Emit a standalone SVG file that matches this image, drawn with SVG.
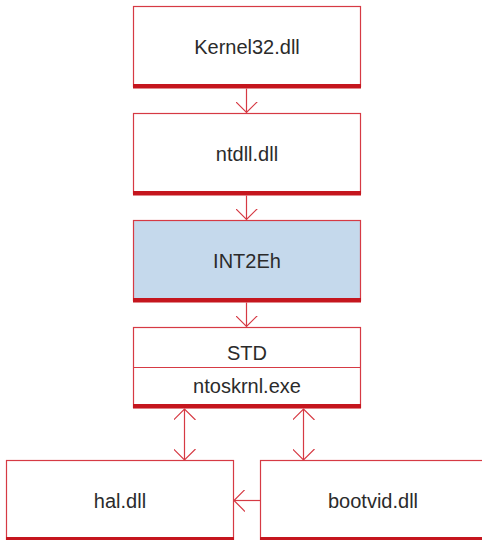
<svg xmlns="http://www.w3.org/2000/svg" width="482" height="540" viewBox="0 0 482 540">
<style>
.box{fill:#fff;stroke:#d63a44;stroke-width:1.2}
.band{fill:#c5161e}
.lbl{font-family:"Liberation Sans",Arial,sans-serif;font-size:20px;fill:#2b2b2b;text-anchor:middle}
.ln{stroke:#d63a44;stroke-width:1.2;fill:none}
</style>
<defs>
<marker id="ah" viewBox="0 0 12 22" refX="11" refY="11" markerWidth="12" markerHeight="22" markerUnits="userSpaceOnUse" orient="auto-start-reverse">
<path d="M0,0 L11,11 L0,22" fill="none" stroke="#d63a44" stroke-width="1.2"/>
</marker>
</defs>
<g id="kernel32">
<rect class="box" x="133.5" y="6.5" width="227" height="80"/>
<rect class="band" x="133" y="84" width="228" height="4.5"/>
<text class="lbl" x="247" y="54">Kernel32.dll</text>
</g>
<g id="ntdll">
<rect class="box" x="133.5" y="113.5" width="227" height="80"/>
<rect class="band" x="133" y="191" width="228" height="4.5"/>
<text class="lbl" x="247" y="161">ntdll.dll</text>
</g>
<g id="int2eh">
<rect class="box" x="133.5" y="220.5" width="227" height="80" style="fill:#c5d9ec"/>
<rect class="band" x="133" y="298" width="228" height="4.5"/>
<text class="lbl" x="247" y="268">INT2Eh</text>
</g>
<g id="ntoskrnl">
<rect class="box" x="133.5" y="327.5" width="227" height="80"/>
<line class="ln" x1="133.5" y1="367.5" x2="360.5" y2="367.5"/>
<rect class="band" x="133" y="404" width="228" height="4.5"/>
<text class="lbl" x="247" y="360">STD</text>
<text class="lbl" x="247" y="393">ntoskrnl.exe</text>
</g>
<g id="hal">
<rect class="box" x="6.5" y="460.5" width="227" height="82"/>
<rect class="band" x="6" y="537" width="228" height="4"/>
<text class="lbl" x="120" y="508">hal.dll</text>
</g>
<g id="bootvid">
<rect class="box" x="260.5" y="460.5" width="227" height="82"/>
<rect class="band" x="260" y="537" width="228" height="4"/>
<text class="lbl" x="373" y="508">bootvid.dll</text>
</g>
<g id="connectors">
<line class="ln" x1="246.5" y1="88.5" x2="246.5" y2="112.5" marker-end="url(#ah)"/>
<line class="ln" x1="246.5" y1="195.5" x2="246.5" y2="219.5" marker-end="url(#ah)"/>
<line class="ln" x1="246.5" y1="302.5" x2="246.5" y2="326.5" marker-end="url(#ah)"/>
<line class="ln" x1="184.5" y1="409" x2="184.5" y2="460" marker-start="url(#ah)" marker-end="url(#ah)"/>
<line class="ln" x1="303.5" y1="409" x2="303.5" y2="460" marker-start="url(#ah)" marker-end="url(#ah)"/>
<line class="ln" x1="260" y1="500.5" x2="234" y2="500.5" marker-end="url(#ah)"/>
</g>
</svg>
